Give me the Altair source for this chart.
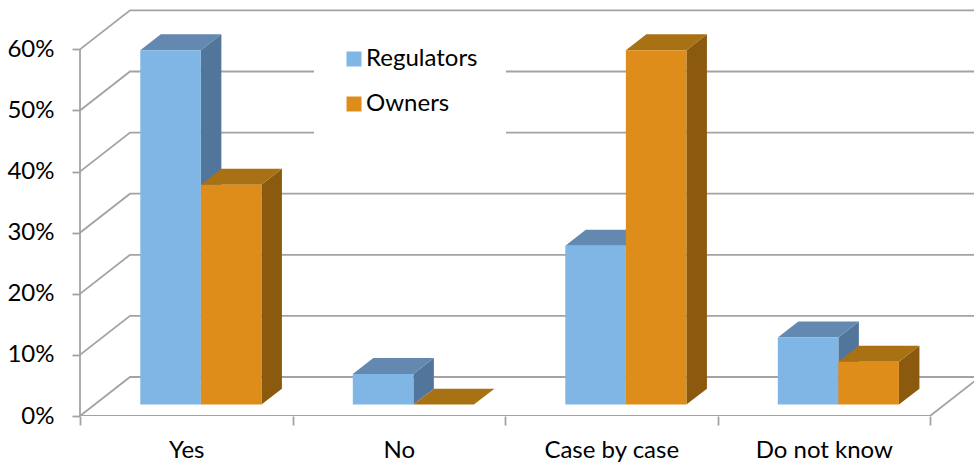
import altair as alt
import pandas as pd

# ---- chart data ----
categories = ["Yes", "No", "Case by case", "Do not know"]
series = ["Regulators", "Owners"]
regulators = [58, 5, 26, 11]
owners = [36, 0, 58, 7]
y_ticks = [0, 10, 20, 30, 40, 50, 60]

# ---- styling ----
FONT = "Lato"
GRID = "#a3a3a3"
FRONT = ["#7fb6e6", "#df8d1a"]
TOP = ["#6389b1", "#a87113"]
SIDE = ["#52769b", "#8b5a0e"]

# ---- 3-D projection (x in category units, y in percent) ----
DX, DY = 0.2353, 6.38        # full floor depth offset
F0, F1 = 0.292, 0.702        # front / back depth of the bars
BAR_W = 0.285
N = len(categories)
X_MAX = 4.207
Y_MAX = 68.08

xs = alt.Scale(domain=[0, X_MAX], nice=False, zero=False)
ys = alt.Scale(domain=[0, Y_MAX], nice=False, zero=False)

cat_array = "[" + ",".join("'" + c + "'" for c in categories) + "]"
x_axis = alt.Axis(
    values=[i / 2 for i in range(2 * N + 1)],
    labelExpr=f"datum.value % 1 == 0 ? '' : {cat_array}[floor(datum.value)]",
    tickOpacity={"condition": {"test": "datum.value % 1 == 0", "value": 1}, "value": 0},
    domain=False, grid=False, tickSize=9, tickColor=GRID, tickWidth=1.8,
    labelFont=FONT, labelFontSize=24, labelColor="#000000",
    labelBaseline="alphabetic", labelPadding=32, labelOverlap=False,
    labelFlush=False, labelBound=False, title=None,
)
y_axis = alt.Axis(
    values=y_ticks, labelExpr="datum.value + '%'",
    domain=False, grid=False, tickSize=8, tickColor=GRID, tickWidth=1.8,
    labelFont=FONT, labelFontSize=24, labelColor="#000000",
    labelPadding=18, title=None,
)

# ---- geometry tables built from the data ----
fronts, sides, tops = [], [], []
for i, cat in enumerate(categories):
    for j, (name, vals) in enumerate(zip(series, [regulators, owners])):
        v = vals[i]
        x0 = i + 0.5 - BAR_W + j * BAR_W + F0 * DX
        x1 = x0 + BAR_W
        yb = F0 * DY
        yt = yb + v
        ddx, ddy = (F1 - F0) * DX, (F1 - F0) * DY
        fid = f"{cat}-{name}"
        fronts.append(dict(series=name, category=cat, value=v, x=x0, x2=x1, y=yb, y2=yt))
        sides.append(dict(series=name, face=fid, x=x1, y=yb, y2=yt))
        sides.append(dict(series=name, face=fid, x=x1 + ddx, y=yb + ddy, y2=yt + ddy))
        tops.append(dict(series=name, face=fid, y=yt, x=x0, x2=x1))
        tops.append(dict(series=name, face=fid, y=yt + ddy, x=x0 + ddx, x2=x1 + ddx))

grid_rows = []
for v in y_ticks:
    pts = [(0, v), (DX, v + DY), (N + DX, v + DY)]
    for k, (gx, gy) in enumerate(pts):
        grid_rows.append(dict(line=f"g{v}", k=k, x=gx, y=gy))
for k, (gx, gy) in enumerate([(0, 0), (N, 0), (N + DX, DY)]):
    grid_rows.append(dict(line="floor", k=k, x=gx, y=gy))

grid = (
    alt.Chart(pd.DataFrame(grid_rows))
    .mark_line(color=GRID, strokeWidth=1.8, clip=True)
    .encode(
        x=alt.X("x:Q", scale=xs, axis=x_axis),
        y=alt.Y("y:Q", scale=ys, axis=y_axis),
        detail="line:N",
        order="k:O",
    )
)

y_line = (
    alt.Chart(pd.DataFrame({"x": [0], "y": [0], "y2": [y_ticks[-1]]}))
    .mark_rule(color=GRID, strokeWidth=1.8)
    .encode(x=alt.X("x:Q", scale=xs, axis=x_axis),
            y=alt.Y("y:Q", scale=ys, axis=y_axis), y2="y2:Q")
)

side_layer = (
    alt.Chart(pd.DataFrame(sides))
    .mark_area(orient="vertical", clip=True)
    .encode(
        x=alt.X("x:Q", scale=xs, axis=x_axis),
        y=alt.Y("y:Q", scale=ys, axis=y_axis, stack=None),
        y2="y2:Q",
        detail="face:N",
        color=alt.Color("series:N", scale=alt.Scale(domain=series, range=SIDE), legend=None),
    )
)

top_layer = (
    alt.Chart(pd.DataFrame(tops))
    .mark_area(orient="horizontal", clip=True)
    .encode(
        y=alt.Y("y:Q", scale=ys, axis=y_axis),
        x=alt.X("x:Q", scale=xs, axis=x_axis, stack=None),
        x2="x2:Q",
        detail="face:N",
        color=alt.Color("series:N", scale=alt.Scale(domain=series, range=TOP), legend=None),
    )
)

front_layer = (
    alt.Chart(pd.DataFrame(fronts))
    .mark_rect()
    .encode(
        x=alt.X("x:Q", scale=xs, axis=x_axis),
        x2="x2:Q",
        y=alt.Y("y:Q", scale=ys, axis=y_axis),
        y2="y2:Q",
        color=alt.Color(
            "series:N",
            scale=alt.Scale(domain=series, range=FRONT),
            legend=alt.Legend(
                title=None, orient="none", legendX=234, legendY=19,
                fillColor="white", padding=28, symbolType="square",
                symbolSize=225, symbolStrokeWidth=0, rowPadding=21,
                labelFont=FONT, labelFontSize=24, labelColor="#000000",
                labelOffset=0,
            ),
        ),
    )
)

chart = (
    alt.layer(grid, y_line, side_layer, top_layer, front_layer)
    .resolve_scale(color="independent")
    .properties(
        width=894, height=416,
        autosize=alt.AutoSizeParams(type="none"),
        padding={"left": 80, "top": 0, "right": 0, "bottom": 50},
        background="white",
    )
    .configure_view(stroke=None)
)

chart.save("out.html", embed_options={"renderer": "svg", "actions": False})
